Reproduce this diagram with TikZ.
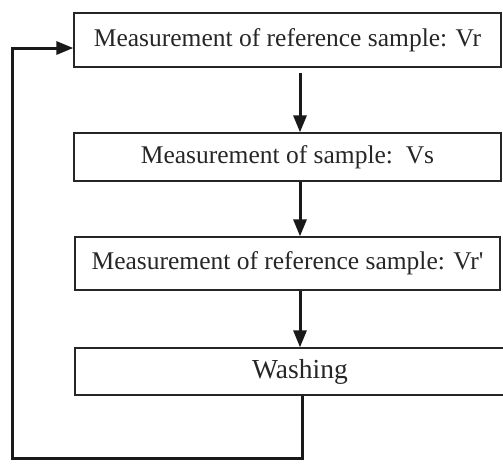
\documentclass[tikz,border=0pt]{standalone}
\usepackage{fontspec}
\setmainfont{Liberation Serif}
\usetikzlibrary{arrows.meta}
\begin{document}
\begin{tikzpicture}[x=1pt,y=-1pt,
  stepbox/.style={draw=black!85,line width=1.3pt,rectangle,inner sep=0pt,
    font=\fontsize{25.5}{30}\selectfont,text=black!85},
  conn/.style={draw=black!90,line width=3pt},
  arr/.style={conn,-{Triangle[length=17pt,width=13pt]}}]
\useasboundingbox (0,0) rectangle (503,467);
\node[stepbox,minimum width=427pt,minimum height=54pt] (b1) at (287.5,40) {Measurement of reference sample: Vr};
\node[stepbox,minimum width=427pt,minimum height=48pt] (b2) at (287.5,157) {Measurement of sample:\ \ Vs};
\node[stepbox,minimum width=425pt,minimum height=53pt] (b3) at (287.5,263.5) {Measurement of reference sample: Vr\textquotesingle};
\node[stepbox,minimum width=450pt,minimum height=47pt,font=\fontsize{27.5}{32}\selectfont] (b4) at (300,371.5) {Washing};
\coordinate (ax) at (300,0);
\coordinate (c1) at (302,458);
\coordinate (c2) at (12,458);
\coordinate (c3) at (12,48);
\draw[arr] (b1.south -| ax) ++(0,5) -- (b2.north -| ax);
\draw[arr] (b2.south -| ax) -- (b3.north -| ax);
\draw[arr] (b3.south -| ax) -- (b4.north -| ax);
\draw[arr] (b4.south -| c1) -- (c1) -- (c2) -- (c3) -- (c3 -| b1.west);
\end{tikzpicture}
\end{document}
